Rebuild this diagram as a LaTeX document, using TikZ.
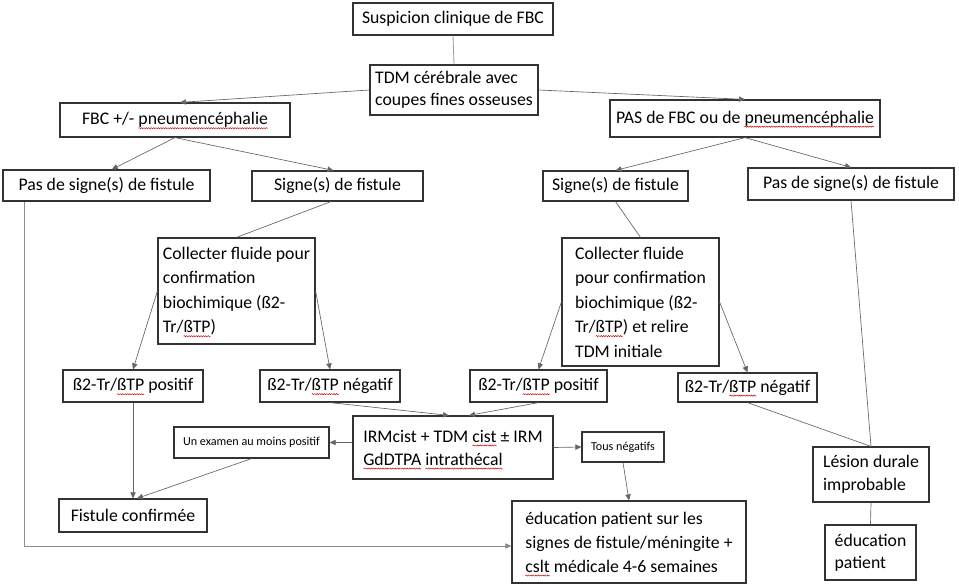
\documentclass[tikz,border=0pt]{standalone}
\usepackage{fontspec}
\setmainfont{Carlito}
\usetikzlibrary{arrows.meta,decorations.pathmorphing}

% red wavy spell-check underline under a word
\newsavebox\sqbox
\newcommand\sq[1]{\begingroup\sbox\sqbox{#1}\edef\sqw{\the\wd\sqbox}%
  \rlap{\tikz[overlay, x=1pt, y=1pt]{\draw[red!80!black, line width=0.35pt, decorate,
    decoration={snake, amplitude=0.45pt, segment length=1.8pt}]
    (0pt,-2.6pt) -- (\sqw,-2.6pt);}}\usebox\sqbox\endgroup}

\tikzset{
  box/.style={draw=black!80, line width=0.9pt, inner sep=2pt, align=left,
    font=\fontsize{13.3}{18.4}\selectfont},
  small/.style={font=\fontsize{9.1}{10}\selectfont},
  conn/.style={draw=black!60, line width=0.5pt},
  arr/.style={conn, -{Triangle[length=4.5pt,width=4pt]}},
  lite/.style={draw=black!40, line width=0.6pt}
}

% \flowbox[options]{name}{x1}{y1}{x2}{y2}{text}
\newcommand\flowbox[7][]{%
  \node[box, minimum width={(#5-#3)*0.75pt}, minimum height={(#6-#4)*0.75pt}, #1]
    (#2) at ({(#3+#5)/2},{(#4+#6)/2}) {#7};}

\begin{document}
\begin{tikzpicture}[x=0.75pt, y=-0.75pt]
\useasboundingbox (0,0) rectangle (959,584);

% boxes
\flowbox{sus}{353}{3}{553}{35}{Suspicion clinique de FBC}
\flowbox[font=\fontsize{13.3}{16.5}\selectfont]{tdm}{370}{65}{538}{115}{TDM cérébrale avec\\coupes fines osseuses}
\flowbox{fbc}{60}{103}{290}{137}{FBC +/- \sq{pneumencéphalie}}
\flowbox{pas}{610}{100}{880}{137}{PAS de FBC ou de \sq{pneumencéphalie}}
\flowbox{npL}{3}{170}{210}{201}{Pas de signe(s) de fistule}
\flowbox{sgL}{252}{171}{423}{201}{Signe(s) de fistule}
\flowbox{sgR}{543}{171}{688}{201}{Signe(s) de fistule}
\flowbox{npR}{748}{168}{954}{200}{Pas de signe(s) de fistule}
\flowbox{colL}{158}{238}{315}{344}{Collecter fluide pour\\confirmation\\biochimique (ß2-\\Tr/\sq{ßTP})}
\flowbox{colR}{562}{238}{719}{366}{Collecter fluide\\pour confirmation\\biochimique (ß2-\\Tr/\sq{ßTP}) et relire\\TDM initiale}
\flowbox{posL}{63}{370}{203}{402}{ß2-Tr/\sq{ßTP} positif}
\flowbox{negL}{260}{370}{400}{402}{ß2-Tr/\sq{ßTP} négatif}
\flowbox{posR}{470}{370}{607}{402}{ß2-Tr/\sq{ßTP} positif}
\flowbox{negR}{678}{373}{817}{402}{ß2-Tr/\sq{ßTP} négatif}
\flowbox[font=\fontsize{13.3}{17.3}\selectfont]{irm}{353}{416}{553}{479}{IRMcist + TDM \sq{cist} ± IRM\\\sq{GdDTPA} \sq{intrathécal}}
\flowbox[small]{exam}{174}{427}{329}{458}{Un examen au moins positif}
\flowbox[small]{tous}{582}{432}{664}{462}{Tous négatifs}
\flowbox{fist}{59}{499}{207}{532}{Fistule confirmée}
\flowbox[font=\fontsize{13.3}{18}\selectfont]{edu}{512}{501}{746}{583}{éducation patient sur les\\signes de fistule/méningite +\\\sq{cslt} médicale 4-6 semaines}
\flowbox[font=\fontsize{13.3}{17.3}\selectfont]{les}{813}{447}{929}{502}{Lésion durale\\improbable}
\flowbox[font=\fontsize{13.3}{16.5}\selectfont]{edp}{825}{525}{916}{580}{éducation\\patient}

% connectors
\draw[lite] (sus.south) -- (tdm.north);
\draw[arr] (tdm.west) -- ([xshift=3.75pt]fbc.north);
\draw[arr] (tdm.east) -- (pas.north);
\draw[arr] (fbc.south) -- ([xshift=4pt]npL.north);
\draw[arr] (fbc.south) -- ([xshift=-3pt]sgL.north);
\draw[arr] (pas.south) -- (sgR.north);
\draw[arr] (pas.south) -- (npR.north);
\draw[conn] ([xshift=-5pt]sgL.south) -- (colL.north);
\draw[conn] (sgR.south) -- (colR.north);
\draw[arr] (colL.west) -- (posL.north);
\draw[arr] (colL.east) -- (negL.north);
\draw[arr] (colR.west) -- (posR.north);
\draw[arr] (colR.east) -- (negR.north);
\draw[arr] (negL.south) -- ([xshift=-3pt]irm.north);
\draw[arr] (posR.south) -- ([xshift=12pt]irm.north);
\draw[arr] (irm.west |- exam.east) -- (exam.east);
\draw[arr] (irm.east) -- (tous.west);
\draw[arr] (exam.south) -- ([xshift=3pt]fist.north);
\draw[arr] (posL.south) -- (fist.north);
\draw[arr] (tous.south) -- (edu.north);
\draw[arr, draw=black!45] ([xshift=16.5pt]npL.south west) |- ([yshift=-3pt]edu.west);
\draw[conn] (negR.south) -- (les.north);
\draw[conn] (npR.south) -- (les.north);
\draw[conn] (les.south) -- (edp.north);
\end{tikzpicture}
\end{document}
